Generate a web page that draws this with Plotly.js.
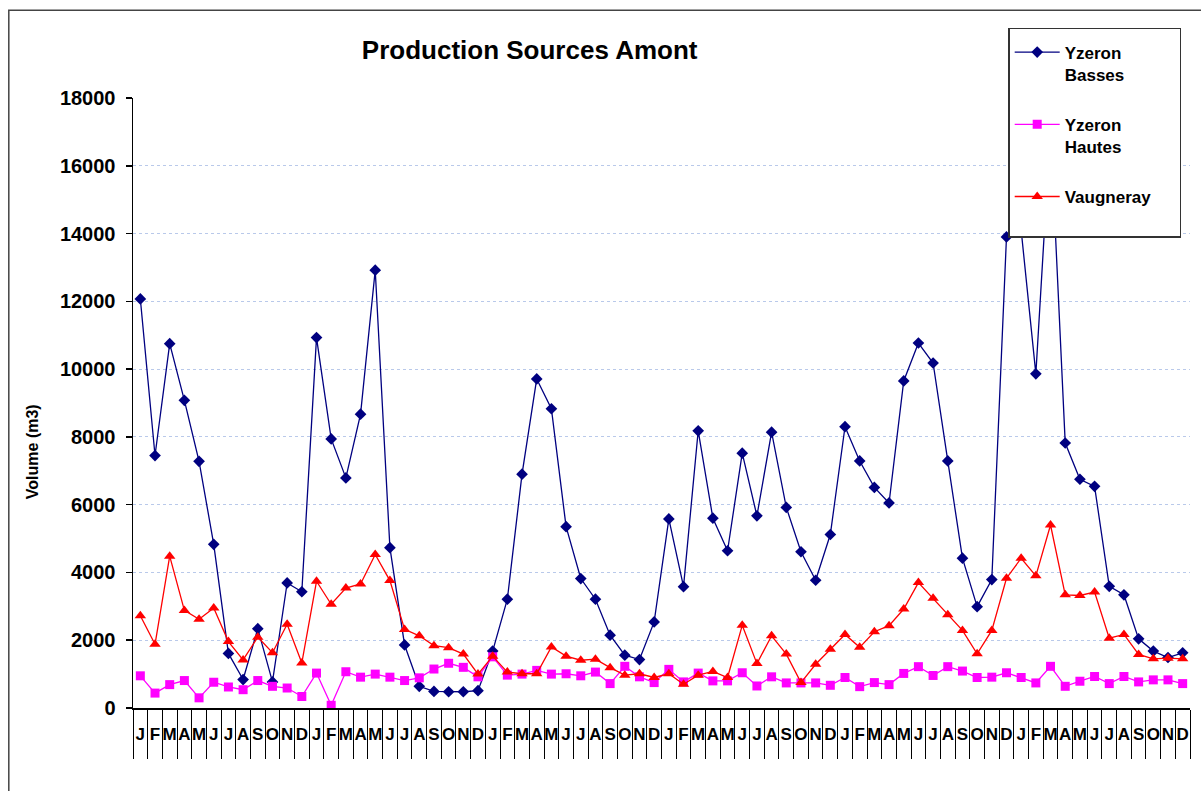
<!DOCTYPE html>
<html>
<head>
<meta charset="utf-8">
<script src="https://cdn.plot.ly/plotly-3.0.1.min.js"></script>
<style>html,body{margin:0;padding:0;background:#fff;}#chart{width:1201px;height:791px;}</style>
</head>
<body>
<div id="chart"></div>
<script>
const monthLetters = ["J","F","M","A","M","J","J","A","S","O","N","D"];
const yzeronBasses = [
  12070, 7450, 10750, 9080, 7280, 4830, 1610, 840, 2340, 770, 3690, 3430,
  10930, 7940, 6790, 8670, 12920, 4730, 1860, 640, 490, 480, 480, 510,
  1680, 3210, 6900, 9710, 8830, 5350, 3820, 3210, 2150, 1560, 1430, 2540,
  5580, 3580, 8180, 5600, 4640, 7520, 5670, 8140, 5920, 4610, 3770, 5120,
  8300, 7290, 6510, 6050, 9650, 10770, 10180, 7290, 4420, 2990, 3790, 13900,
  14100, 9860, 17100, 7820, 6750, 6540, 3590, 3340, 2040, 1680, 1490, 1630
];
const yzeronHautes = [
  950, 440, 690, 810, 300, 760, 620, 540, 810, 640, 590, 340,
  1030, 80, 1070, 910, 1000, 910, 810, 890, 1150, 1320, 1200, 920,
  1510, 970, 1000, 1110, 1000, 1010, 950, 1060, 720, 1230, 920, 750,
  1140, 770, 1030, 800, 800, 1040, 650, 920, 740, 740, 740, 670,
  900, 630, 750, 690, 1020, 1220, 960, 1220, 1090, 900, 910, 1040,
  900, 740, 1230, 640, 790, 930, 720, 930, 770, 830, 830, 720
];
const vaugneray = [
  2720, 1880, 4480, 2880, 2620, 2950, 1960, 1420, 2090, 1630, 2470, 1330,
  3740, 3060, 3540, 3660, 4530, 3760, 2320, 2130, 1840, 1780, 1590, 1000,
  1530, 1060, 1010, 1010, 1800, 1530, 1410, 1440, 1190, 970, 1010, 900,
  1010, 700, 970, 1080, 900, 2440, 1310, 2130, 1590, 750, 1290, 1730,
  2170, 1790, 2250, 2430, 2920, 3700, 3240, 2750, 2290, 1600, 2290, 3830,
  4420, 3900, 5400, 3340, 3320, 3420, 2060, 2170, 1580, 1450, 1470, 1450
];
const seriesNames = ["Yzeron<br>Basses", "Yzeron<br>Hautes",
  "Vaugneray&nbsp;&nbsp;&nbsp;&nbsp;&nbsp;<br><span style=\"font-size:30px\"> </span>"];
const chartTitle = "Production Sources Amont";
const yTitle = "Volume (m3)";

const nMonths = yzeronBasses.length;
const xIdx = [];
const xLabels = [];
for (let i = 0; i < nMonths; i++) { xIdx.push(i); xLabels.push(monthLetters[i % 12]); }

const FONT = "Liberation Sans, Arial, sans-serif";

const traces = [
  {x: xIdx, y: yzeronBasses, name: seriesNames[0], legendgroup: "a", type: "scatter", mode: "lines+markers",
   line: {color: "#000080", width: 1.3}, marker: {symbol: "diamond", size: 9, color: "#000080"}},
  {x: xIdx, y: yzeronHautes, name: seriesNames[1], legendgroup: "b", type: "scatter", mode: "lines+markers",
   line: {color: "#FF00FF", width: 1.3}, marker: {symbol: "square", size: 9, color: "#FF00FF"}},
  {x: xIdx, y: vaugneray, name: seriesNames[2], legendgroup: "c", type: "scatter", mode: "lines+markers",
   line: {color: "#FF0000", width: 1.3}, marker: {symbol: "triangle-up", size: 10, color: "#FF0000"}}
];

const layout = {
  width: 1201, height: 791,
  margin: {l: 133, r: 11, t: 98, b: 83},
  paper_bgcolor: "#fff", plot_bgcolor: "#fff",
  font: {family: FONT, color: "#000"},
  showlegend: true,
  title: {text: "<b>" + chartTitle + "</b>", font: {size: 26, family: FONT, color: "#000"},
          xref: "container", x: 0.441, xanchor: "center", yref: "container", y: 0.937, yanchor: "middle"},
  xaxis: {
    range: [-0.5, nMonths - 0.5],
    tickmode: "array", tickvals: xIdx, ticktext: xLabels, tickangle: 0,
    ticks: "", tickfont: {size: 17, family: FONT, color: "#000", weight: "bold"},
    ticklabelstandoff: 10,
    showline: true, linecolor: "#000", linewidth: 1.5,
    showgrid: false, zeroline: false,
    minor: {ticks: "outside", ticklen: 49, tick0: -0.5, dtick: 1, tickcolor: "#000", tickwidth: 1, showgrid: false}
  },
  yaxis: {
    range: [0, 18000], tick0: 0, dtick: 2000, tickformat: "d",
    ticks: "outside", ticklen: 6, tickcolor: "#000", tickwidth: 1.5,
    tickfont: {size: 20, family: FONT, color: "#000", weight: "bold"},
    ticklabelstandoff: 6,
    showline: true, linecolor: "#000", linewidth: 1.5,
    showgrid: true, gridcolor: "#b9c9ea", griddash: "dot", gridwidth: 1,
    zeroline: false
  },
  annotations: [
    {text: "<b>" + yTitle + "</b>", textangle: -90, xref: "paper", yref: "paper",
     x: -0.0956, y: 0.421, xanchor: "center", yanchor: "middle", showarrow: false,
     font: {size: 16, family: FONT, color: "#000"}}
  ],
  legend: {
    x: 0.828, xanchor: "left", y: 1.115, yanchor: "top",
    bgcolor: "#fff", bordercolor: "#333", borderwidth: 1.5,
    font: {size: 17, family: FONT, color: "#000", weight: "bold"},
    title: {text: " ", font: {size: 4}},
    tracegroupgap: 25, valign: "top", itemwidth: 45
  },
  shapes: [
    {type: "rect", xref: "paper", yref: "paper", x0: -0.1175, x1: 1.2, y0: 1.144, y1: -0.3,
     line: {color: "#444", width: 1.5}, fillcolor: "rgba(0,0,0,0)", layer: "below"}
  ]
};

Plotly.newPlot("chart", traces, layout, {displayModeBar: false, staticPlot: true});
</script>
</body>
</html>
